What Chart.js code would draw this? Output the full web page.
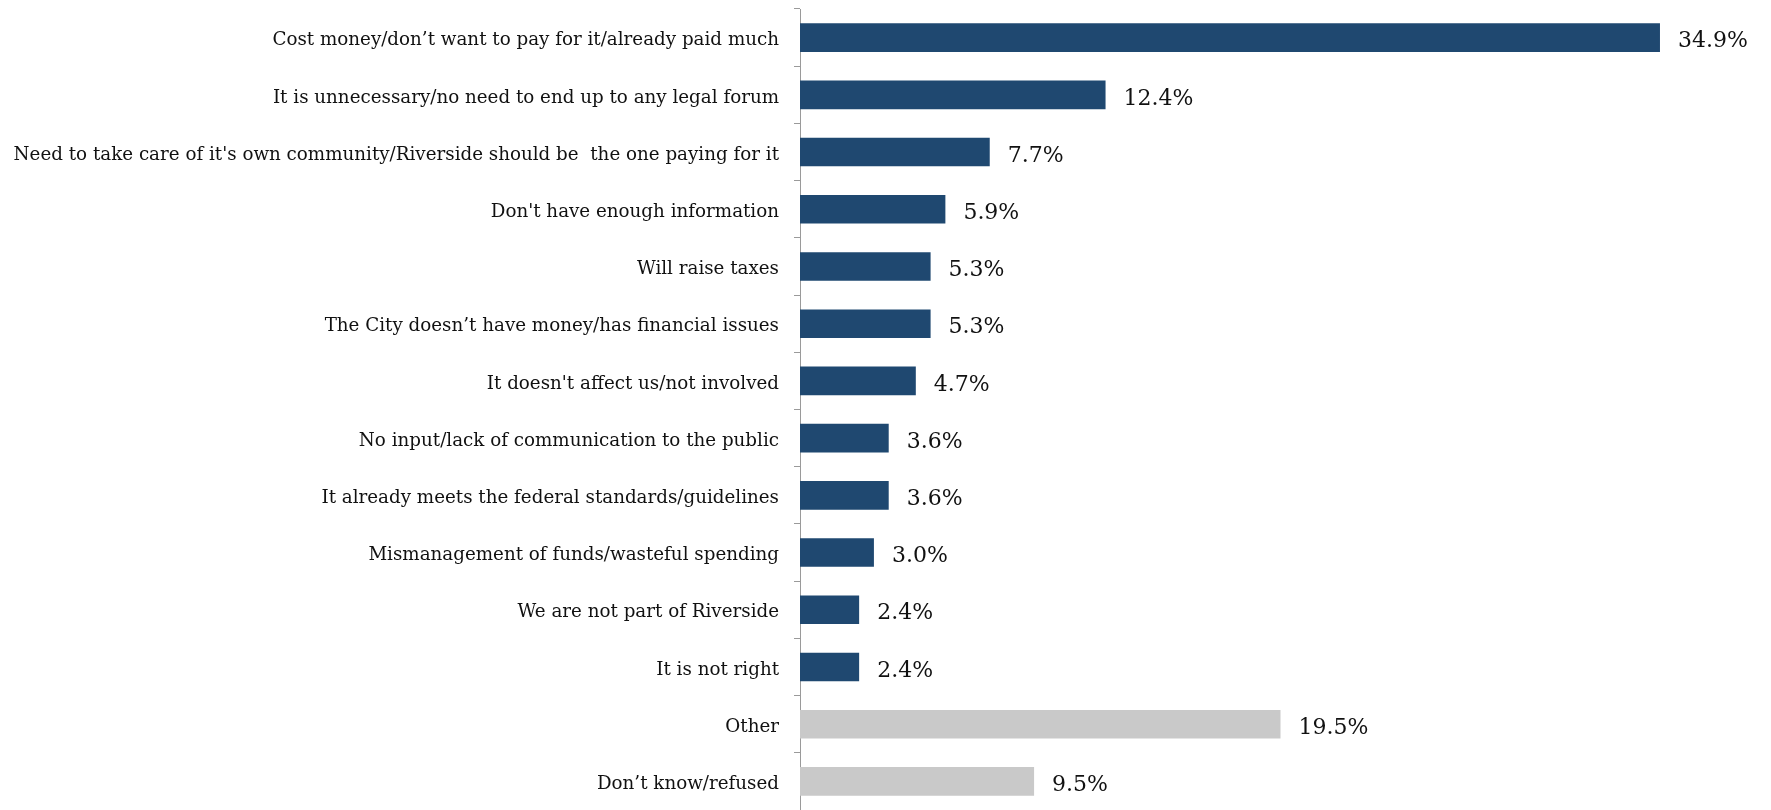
<!DOCTYPE html>
<html>
<head>
<meta charset="utf-8">
<script src="https://cdn.jsdelivr.net/npm/chart.js@4/dist/chart.umd.min.js"></script>
<style>
    html, body { margin: 0; padding: 0; background: #fff; }
    #wrap { width: 1771px; height: 810px; position: relative; }
</style>
</head>
<body>
<div id="wrap"><canvas id="reasonsChart"></canvas></div>
<script>
const reasons = [
    'Cost money/don\u2019t want to pay for it/already paid much',
    'It is unnecessary/no need to end up to any legal forum',
    'Need to take care of it\'s own community/Riverside should be  the one paying for it',
    'Don\'t have enough information',
    'Will raise taxes',
    'The City doesn\u2019t have money/has financial issues',
    'It doesn\'t affect us/not involved',
    'No input/lack of communication to the public',
    'It already meets the federal standards/guidelines',
    'Mismanagement of funds/wasteful spending',
    'We are not part of Riverside',
    'It is not right',
    'Other',
    'Don\u2019t know/refused'
];
const shares = [34.9, 12.4, 7.7, 5.9, 5.3, 5.3, 4.7, 3.6, 3.6, 3.0, 2.4, 2.4, 19.5, 9.5];
// last two rows are the non-substantive answers, shown in grey
const otherRows = ['Other', 'Don\u2019t know/refused'];

const BLUE = '#1f4870';
const GREY = '#c9c9c9';
const FONT = '"DejaVu Serif", "Liberation Serif", serif';

const valueLabels = {
    id: 'valueLabels',
    afterDatasetsDraw(chart) {
        const ctx = chart.ctx;
        const meta = chart.getDatasetMeta(0);
        ctx.save();
        ctx.font = '22px ' + FONT;
        ctx.fillStyle = '#111';
        ctx.textAlign = 'left';
        ctx.textBaseline = 'middle';
        meta.data.forEach((bar, i) => {
            ctx.fillText(shares[i].toFixed(1) + '%', bar.x + 18, bar.y + 4);
        });
        ctx.restore();
    }
};

new Chart(document.getElementById('reasonsChart'), {
    type: 'bar',
    data: {
        labels: reasons,
        datasets: [{
            data: shares,
            backgroundColor: reasons.map(r => otherRows.includes(r) ? GREY : BLUE),
            barPercentage: 0.5,
            categoryPercentage: 1.0
        }]
    },
    options: {
        indexAxis: 'y',
        responsive: true,
        maintainAspectRatio: false,
        animation: false,
        layout: { padding: { top: 9, right: 10, bottom: 0, left: 0 } },
        plugins: {
            legend: { display: false },
            tooltip: { enabled: false }
        },
        scales: {
            x: {
                display: false,
                min: 0,
                max: 39
            },
            y: {
                afterFit(scale) {
                    // fixed label column; no extra room above/below the rows
                    scale.width = 800;
                    scale.paddingTop = 0;
                    scale.paddingBottom = 0;
                },
                border: { color: '#9a9a9a', width: 1 },
                grid: {
                    offset: true,
                    drawOnChartArea: false,
                    drawTicks: true,
                    tickLength: 6,
                    color: '#9a9a9a'
                },
                ticks: {
                    padding: 15,
                    labelOffset: 3,
                    color: '#111',
                    autoSkip: false,
                    font: { family: FONT, size: 18.3 }
                }
            }
        }
    },
    plugins: [valueLabels]
});
</script>
</body>
</html>
